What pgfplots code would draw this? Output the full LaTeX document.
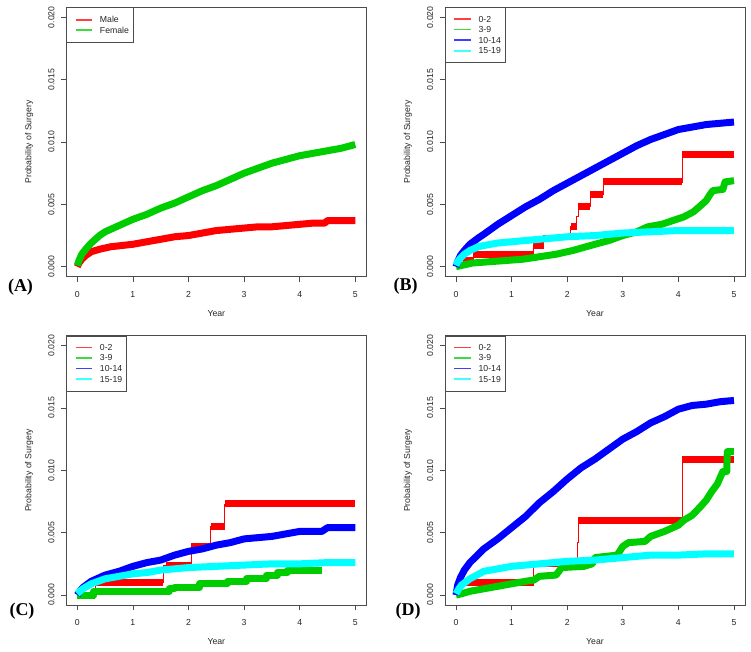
\documentclass[border=0pt]{standalone}
\usepackage{pgfplots}
\pgfplotsset{compat=1.18}
\usepackage{fontspec}
\setmainfont{Liberation Sans}
\newfontfamily\panelfont{Liberation Serif}
\newcommand\lab{\fontsize{8.7bp}{10bp}\selectfont}

\definecolor{kmred}{RGB}{255,0,0}
\definecolor{kmgreen}{RGB}{0,205,0}
\definecolor{kmblue}{RGB}{0,0,255}
\definecolor{kmcyan}{RGB}{0,255,255}

\pgfplotsset{
  km/.style={
    scale only axis, width=300.2bp, height=269.4bp,
    xmin=-0.2, xmax=5.2, ymin=-0.0008, ymax=0.0208,
    xtick={0,1,2,3,4,5}, xticklabels={0,1,2,3,4,5},
    ytick={0,0.005,0.01,0.015,0.02},
    yticklabels={0.000,0.005,0.010,0.015,0.020},
    scaled y ticks=false,
    tick align=outside, tick pos=left,
    major tick length=5bp,
    axis line style={black!70, line width=0.7bp},
    every tick/.style={black!70, line width=0.7bp},
    ticklabel style={font=\lab, text=black!85},
    yticklabel style={rotate=90, anchor=south, inner sep=0pt},
    xticklabel style={anchor=north, inner sep=0pt},
    yticklabel shift=6.5bp, xticklabel shift=9.3bp,
    xlabel={Year}, ylabel={Probability of Surgery},
    label style={font=\lab, text=black!85, inner sep=0pt},
    xlabel style={at={(axis description cs:0.5,-0.147)}, anchor=base},
    ylabel style={at={(axis description cs:-0.1156,0.5)}, anchor=base},
    legend style={at={(0,1)}, anchor=north west, draw=black!70, line width=0.7bp,
      fill=white, font=\lab, inner xsep=4bp, inner ysep=8.5bp,
      row sep=3.6bp, column sep=7bp,
      nodes={inner sep=0pt, text height=6.3bp, text depth=0pt, text=black!85}},
    legend cell align=left,
    legend image code/.code={\path (-1.5bp,0bp);
      \draw[##1, line width=1.8bp, opacity=0.75, solid] (0bp,0bp) -- (16.5bp,0bp);},
    unbounded coords=jump,
  },
  curve/.style={line width=7bp, line join=round},
  stepthin/.style={const plot, line width=0.8bp},
  cr/.style={color=kmred, draw=kmred},
  cg/.style={color=kmgreen, draw=kmgreen},
  cb/.style={color=kmblue, draw=kmblue},
  cc/.style={color=kmcyan, draw=kmcyan},
}

\begin{document}
\begin{tikzpicture}
\useasboundingbox (0bp,0bp) rectangle (751bp,652bp);

% ---------------- (A) sex ----------------
\begin{axis}[km, at={(66.2bp,375.3bp)}, anchor=south west]
\addplot[cr, curve] coordinates {
 (0,0) (0.03,0.0003) (0.08,0.0006) (0.15,0.0009) (0.25,0.0012) (0.4,0.0014)
 (0.6,0.0016) (0.8,0.0017) (1,0.0018) (1.25,0.0020) (1.5,0.0022) (1.75,0.0024)
 (2,0.0025) (2.25,0.0027) (2.5,0.0029) (2.75,0.0030) (3,0.0031) (3.25,0.0032)
 (3.5,0.0032) (3.75,0.0033) (4,0.0034) (4.25,0.0035) (4.45,0.0035) (4.5,0.0037)
 (5,0.0037)};
\addlegendentry{Male}
\addplot[cg, curve] coordinates {
 (0,0.0001) (0.03,0.0005) (0.08,0.0010) (0.15,0.0014) (0.25,0.0019) (0.4,0.0025)
 (0.5,0.0028) (0.75,0.0033) (1,0.0038) (1.25,0.0042) (1.5,0.0047) (1.75,0.0051)
 (2,0.0056) (2.25,0.0061) (2.5,0.0065) (2.75,0.0070) (3,0.0075) (3.25,0.0079)
 (3.5,0.0083) (3.75,0.0086) (4,0.0089) (4.25,0.0091) (4.5,0.0093) (4.75,0.0095)
 (5,0.0098)};
\addlegendentry{Female}
\end{axis}

% ---------------- (B) ----------------
\begin{axis}[km, at={(444.9bp,375.3bp)}, anchor=south west]
\addplot[cr, stepthin] coordinates {
 (0,0) (0.05,0.0003) (0.13,0.0005) (0.31,0.0010) (1.39,0.0017) (1.58,0.0025)
 (2.06,0.0032) (2.17,0.0040) (2.2,0.0048) (2.41,0.0058) (2.65,0.0068)
 (4.07,0.0090) (5,0.0090)};
\addlegendentry{0-2}
\addplot[cr, curve, forget plot] coordinates {
 (0.13,0.0005) (0.31,0.0005) (0.31,nan)
 (0.31,0.0010) (1.39,0.0010) (1.39,nan)
 (1.39,0.0017) (1.58,0.0017) (1.58,nan)
 (2.06,0.0032) (2.17,0.0032) (2.17,nan)
 (2.2,0.0048) (2.41,0.0048) (2.41,nan)
 (2.41,0.0058) (2.65,0.0058) (2.65,nan)
 (2.65,0.0068) (4.07,0.0068) (4.07,nan)
 (4.07,0.0090) (5,0.0090)};
\addplot[cg, curve] coordinates {
 (0,0) (0.1,0.0001) (0.3,0.0003) (0.6,0.0004) (0.9,0.0005) (1.2,0.0006)
 (1.5,0.0008) (1.8,0.0010) (2.0,0.0012) (2.1,0.0013) (2.5,0.0018) (2.75,0.0021)
 (3,0.0025) (3.25,0.0028) (3.45,0.0032) (3.7,0.0034) (3.9,0.0037) (4.1,0.0040)
 (4.27,0.0044) (4.4,0.0049) (4.5,0.0053) (4.57,0.0058) (4.62,0.0061)
 (4.8,0.0062) (4.84,0.0068) (5,0.0069)};
\addlegendentry{3-9}
\addplot[cb, curve] coordinates {
 (0,0) (0.03,0.0004) (0.08,0.0009) (0.15,0.0013) (0.25,0.0018) (0.4,0.0023)
 (0.5,0.0026) (0.75,0.0034) (1,0.0041) (1.25,0.0048) (1.5,0.0054) (1.75,0.0061)
 (2,0.0067) (2.25,0.0073) (2.5,0.0079) (2.75,0.0085) (3,0.0091) (3.25,0.0097)
 (3.5,0.0102) (3.75,0.0106) (4,0.0110) (4.25,0.0112) (4.5,0.0114)
 (4.75,0.0115) (5,0.0116)};
\addlegendentry{10-14}
\addplot[cc, curve] coordinates {
 (0,0.0001) (0.03,0.0004) (0.08,0.0007) (0.15,0.0010) (0.25,0.0013) (0.4,0.0016)
 (0.5,0.0017) (0.75,0.0019) (1,0.0020) (1.25,0.0021) (1.5,0.0022) (2,0.0024)
 (2.5,0.0025) (3,0.0027) (3.5,0.0028) (4,0.0029) (4.5,0.0029) (5,0.0029)};
\addlegendentry{15-19}
\end{axis}

% ---------------- (C) ----------------
\begin{axis}[km, at={(66.2bp,47bp)}, anchor=south west]
\addplot[cr, stepthin] coordinates {
 (0,0) (0.32,0.0010) (1.55,0.0024) (2.05,0.0039) (2.4,0.0055) (2.65,0.0073)
 (5,0.0073)};
\addlegendentry{0-2}
\addplot[cr, curve, forget plot] coordinates {
 (0.02,0) (0.32,0) (0.32,nan)
 (0.32,0.0010) (1.55,0.0010) (1.55,nan)
 (1.6,0.0024) (2.05,0.0024) (2.05,nan)
 (2.05,0.0039) (2.4,0.0039) (2.4,nan)
 (2.4,0.0055) (2.65,0.0055) (2.65,nan)
 (2.65,0.0073) (5,0.0073)};
\addplot[cg, curve, const plot] coordinates {
 (0,0) (0.3,0.0003) (1.65,0.0005) (1.75,0.0006) (2.2,0.0009) (2.7,0.0011)
 (3.05,0.0013) (3.4,0.0016) (3.6,0.0018) (3.78,0.0020) (4.41,0.0020)};
\addlegendentry{3-9}
\addplot[cb, curve] coordinates {
 (0,0) (0.03,0.0002) (0.1,0.0006) (0.25,0.0011) (0.5,0.0016) (0.75,0.0019)
 (1,0.0023) (1.25,0.0026) (1.5,0.0028) (1.75,0.0032) (2,0.0035) (2.25,0.0037)
 (2.5,0.0040) (2.75,0.0042) (3,0.0045) (3.25,0.0046) (3.5,0.0047)
 (3.75,0.0049) (4,0.0051) (4.4,0.0051) (4.5,0.0054) (5,0.0054)};
\addlegendentry{10-14}
\addplot[cc, curve] coordinates {
 (0,0.0001) (0.05,0.0003) (0.1,0.0005) (0.25,0.0009) (0.5,0.0013) (0.75,0.0015)
 (1,0.0017) (1.25,0.0018) (1.5,0.0020) (2,0.0022) (2.5,0.0023) (3,0.0024)
 (3.5,0.0025) (4,0.0025) (4.5,0.0026) (5,0.0026)};
\addlegendentry{15-19}
\end{axis}

% ---------------- (D) ----------------
\begin{axis}[km, at={(444.9bp,47bp)}, anchor=south west]
\addplot[cr, stepthin] coordinates {
 (0,0) (0.03,0.0010) (1.4,0.0023) (2.18,0.0042) (2.2,0.0060) (4.07,0.0109)
 (5,0.0109)};
\addlegendentry{0-2}
\addplot[cr, curve, forget plot] coordinates {
 (0.03,0.0010) (1.4,0.0010) (1.4,nan)
 (2.2,0.0060) (4.07,0.0060) (4.07,nan)
 (4.07,0.0109) (5,0.0109)};
\addplot[cg, curve] coordinates {
 (0,0) (0.1,0.0001) (0.25,0.0003) (0.5,0.0005) (0.75,0.0007) (1,0.0009)
 (1.25,0.0011) (1.4,0.0012) (1.5,0.0015) (1.8,0.0016) (1.9,0.0022) (2.3,0.0023)
 (2.45,0.0025) (2.5,0.0030) (2.9,0.0032) (3.0,0.0039) (3.1,0.0042) (3.4,0.0043)
 (3.5,0.0047) (3.75,0.0051) (4,0.0056) (4.1,0.0060) (4.25,0.0064) (4.4,0.0071)
 (4.5,0.0076) (4.6,0.0083) (4.7,0.0089) (4.8,0.0099) (4.87,0.0099)
 (4.88,0.0115) (5,0.0115)};
\addlegendentry{3-9}
\addplot[cb, curve] coordinates {
 (0,0) (0.03,0.0008) (0.08,0.0014) (0.15,0.0020) (0.25,0.0026) (0.5,0.0037)
 (0.75,0.0045) (1,0.0054) (1.25,0.0063) (1.5,0.0074) (1.75,0.0083) (2,0.0093)
 (2.25,0.0102) (2.5,0.0109) (2.75,0.0117) (3,0.0125) (3.25,0.0131)
 (3.5,0.0138) (3.75,0.0143) (4,0.0149) (4.25,0.0152) (4.5,0.0153)
 (4.75,0.0155) (5,0.0156)};
\addlegendentry{10-14}
\addplot[cc, curve] coordinates {
 (0,0.0001) (0.05,0.0005) (0.1,0.0008) (0.25,0.0013) (0.5,0.0019) (0.75,0.0021)
 (1,0.0023) (1.5,0.0025) (2,0.0027) (2.5,0.0028) (3,0.0030) (3.5,0.0032)
 (4,0.0032) (4.5,0.0033) (5,0.0033)};
\addlegendentry{15-19}
\end{axis}

% panel letters
\begin{scope}[every node/.style={font=\panelfont\bfseries\fontsize{18bp}{20bp}\selectfont}]
\node at (20.5bp,365bp) {(A)};
\node at (405.5bp,366bp) {(B)};
\node at (22bp,40.5bp) {(C)};
\node at (408bp,41bp) {(D)};
\end{scope}
\end{tikzpicture}
\end{document}
